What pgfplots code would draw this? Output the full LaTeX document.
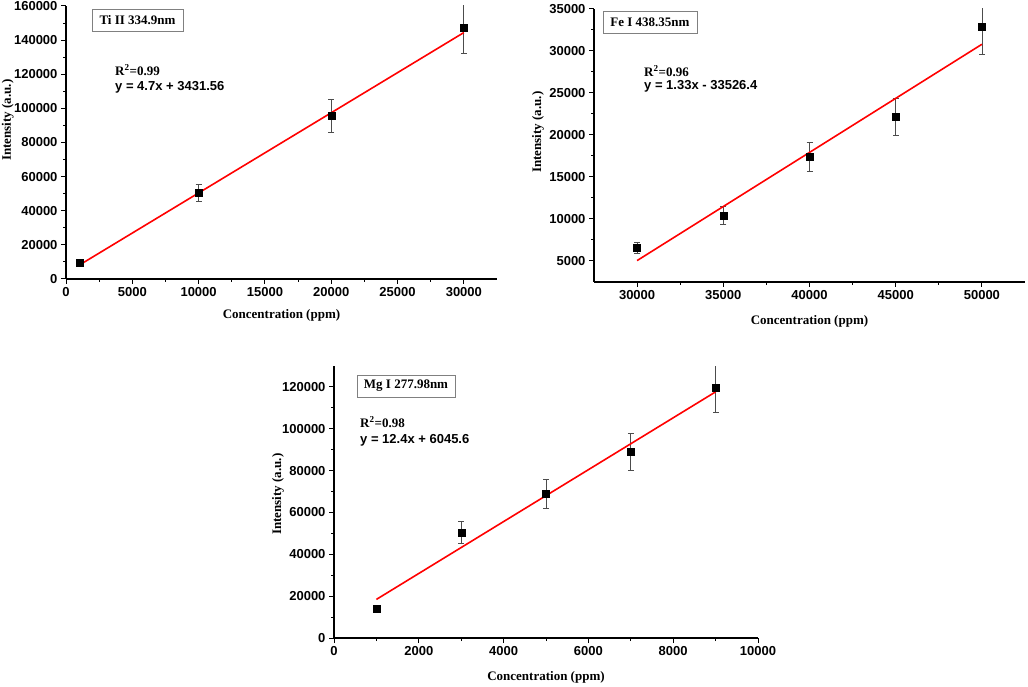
\documentclass[border=0pt]{standalone}
\usepackage{fontspec}
\setmainfont{Liberation Serif}
\setsansfont{Liberation Sans}
\usepackage{pgfplots}
\usepackage{pgfplotstable}
\pgfplotsset{compat=1.18}

% measured values: x  y  error
\pgfplotstableread{
x y e
1000 9300 500
10000 50300 5000
20000 95500 9500
30000 147000 14500
}\tidata
\pgfplotstableread{
x y e
30000 6600 650
35000 10400 1050
40000 17400 1750
45000 22200 2200
50000 32900 3300
}\fedata
\pgfplotstableread{
x y e
1000 14000 600
3000 50500 5100
5000 69000 6900
7000 88900 8900
9000 119500 11500
}\mgdata

\pgfplotsset{
  every non boxed x axis/.append style={x axis line style={-}, xtick align=outside},
  every non boxed y axis/.append style={y axis line style={-}, ytick align=outside},
  calib/.style={
    scale only axis,
    axis lines=left,
    major tick length=5pt, minor tick length=3pt,
    minor x tick num=1, minor y tick num=1,
    tick style={black, line width=1pt},
    axis line style={line width=1.3pt},
    tick label style={font=\fontsize{13}{15}\selectfont\sffamily\bfseries},
    /pgf/number format/fixed,
    /pgf/number format/assume math mode=true,
    scaled ticks=false,
    /pgf/number format/1000 sep={},
    label style={font=\fontsize{13}{15}\selectfont\rmfamily\bfseries},
    xlabel={Concentration (ppm)},
    ylabel={Intensity (a.u.)},
  },
  pts/.style={only marks, mark=square*, mark size=3.5pt, black,
    error bars/.cd, y dir=both, y explicit,
    error bar style={line width=0.8pt, black!70},
    error mark options={rotate=90, mark size=3pt, line width=0.8pt, black!70}},
  fit/.style={red, line width=1.6pt, no marks},
}

\begin{document}
\begin{tikzpicture}[x=1pt,y=1pt]
\path[use as bounding box] (0,0) rectangle (1028,686);

% Ti II
\begin{axis}[calib, at={(66pt,407pt)}, anchor=south west,
    width=431pt, height=273pt,
    xmin=0, xmax=32500, ymin=0, ymax=160000,
    xtick={0,5000,...,30000}, ytick={0,20000,...,160000},
    xlabel style={at={(axis description cs:0.5,-0.135)}, anchor=center},
    ylabel style={at={(axis description cs:-0.135,0.582)}, anchor=center},
]
\addplot[pts] table[x=x, y=y, y error=e] {\tidata};
\addplot[fit] coordinates {(1000,8131.56) (30000,144431.56)};
\end{axis}

% Fe I
\begin{axis}[calib, at={(594pt,404pt)}, anchor=south west,
    width=431pt, height=273pt,
    xmin=27500, xmax=52500, ymin=2500, ymax=35000,
    xtick={30000,35000,...,50000}, ytick={5000,10000,...,35000},
    xlabel style={at={(axis description cs:0.5,-0.143)}, anchor=center},
    ylabel style={at={(axis description cs:-0.13,0.549)}, anchor=center},
]
\addplot[pts] table[x=x, y=y, y error=e] {\fedata};
\addplot[fit] coordinates {(30000,5050) (50000,30800)};
\end{axis}

% Mg I
\begin{axis}[calib, at={(334pt,48pt)}, anchor=south west,
    width=424pt, height=272pt,
    xmin=0, xmax=10000, ymin=0, ymax=130000,
    xtick={0,2000,...,10000}, ytick={0,20000,...,120000},
    xlabel style={at={(axis description cs:0.5,-0.143)}, anchor=center},
    ylabel style={at={(axis description cs:-0.132,0.529)}, anchor=center},
]
\addplot[pts] table[x=x, y=y, y error=e] {\mgdata};
\addplot[fit] coordinates {(1000,18445.6) (9000,117645.6)};
\end{axis}

\tikzset{lbl/.style={draw=gray, line width=0.8pt, inner sep=0pt,
    minimum height=22pt, font=\fontsize{13}{15}\selectfont\rmfamily\bfseries},
  rsq/.style={anchor=west, inner sep=0pt, font=\fontsize{13}{15}\selectfont\rmfamily\bfseries},
  eqn/.style={anchor=west, inner sep=0pt, font=\fontsize{13}{15}\selectfont\sffamily\bfseries}}

\node[lbl, minimum width=91pt] at (137.5,665.5) {Ti II 334.9nm};
\node[rsq] at (115,616) {R\textsuperscript{2}=0.99};
\node[eqn] at (115,599) {y = 4.7x + 3431.56};

\node[lbl, minimum width=94pt] at (650,664) {Fe I 438.35nm};
\node[rsq] at (644,615) {R\textsuperscript{2}=0.96};
\node[eqn] at (644,600) {y = 1.33x - 33526.4};

\node[lbl, minimum width=98pt] at (406,300) {Mg I 277.98nm};
\node[rsq] at (360,264) {R\textsuperscript{2}=0.98};
\node[eqn] at (360,246) {y = 12.4x + 6045.6};
\end{tikzpicture}
\end{document}
